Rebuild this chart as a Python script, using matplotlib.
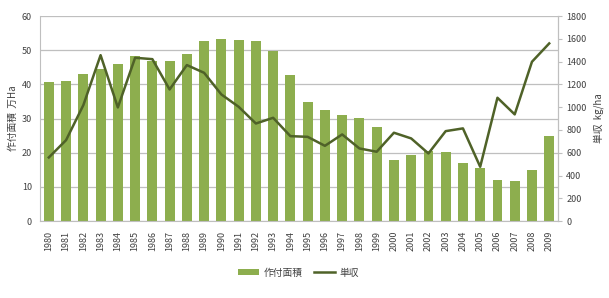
import numpy as np
import matplotlib.pyplot as plt
from matplotlib.patches import Patch
from matplotlib.lines import Line2D

plt.rcParams['font.family'] = ['Noto Sans CJK JP', 'DejaVu Sans']

# data
years = list(range(1980, 2010))
area = [40.8, 41.0, 43.0, 44.5, 46.0, 48.2, 46.8, 46.8, 49.0, 52.7,
        53.3, 52.9, 52.7, 49.8, 42.8, 34.8, 32.6, 31.2, 30.1, 27.5,
        17.9, 19.3, 20.4, 20.2, 16.9, 15.5, 12.0, 11.7, 15.0, 25.0]
yield_kg = [559, 711, 1018, 1457, 998, 1434, 1422, 1156, 1370, 1302,
            1112, 1004, 857, 907, 746, 740, 661, 761, 638, 609,
            776, 726, 594, 790, 814, 477, 1083, 937, 1399, 1560]

bar_color = '#8DAE4E'
line_color = '#4F6228'
grid_color = '#BFBFBF'
text_color = '#404040'

fig = plt.figure(figsize=(6.09, 2.98), dpi=100)
ax = fig.add_axes([0.066, 0.258, 0.850, 0.688])
x = np.arange(len(years))

ax.bar(x, area, width=0.57, color=bar_color, zorder=2)
ax.set_xlim(-0.5, len(years) - 0.5)
ax.set_ylim(0, 60)
ax.set_yticks(range(0, 61, 10))
ax.grid(axis='y', color=grid_color, linewidth=0.9, zorder=0)
ax.set_xticks(x)
ax.set_xticklabels([str(y) for y in years], rotation=90)
ax.tick_params(axis='x', length=0, labelsize=6.5, colors=text_color, pad=7)
ax.tick_params(axis='y', length=0, labelsize=6.5, colors=text_color, pad=6)
ax.spines['top'].set_visible(False)
for s in ['left', 'right', 'bottom']:
    ax.spines[s].set_color(grid_color)
ax.set_ylabel('作付面積  万Ha', fontsize=7, color=text_color, labelpad=3)

ax2 = ax.twinx()
ax2.plot(x, yield_kg, color=line_color, linewidth=1.8, zorder=3)
ax2.set_ylim(0, 1800)
ax2.set_yticks(range(0, 1801, 200))
ax2.tick_params(axis='y', length=3, labelsize=6.5, colors=text_color,
                pad=3, color=grid_color)
for s in ['top', 'left', 'bottom']:
    ax2.spines[s].set_visible(False)
ax2.spines['right'].set_color(grid_color)
ax2.set_ylabel('単収  kg/ha', fontsize=7, color=text_color, rotation=90,
               labelpad=5)

handles = [Patch(facecolor=bar_color, edgecolor='none'),
           Line2D([0], [0], color=line_color, linewidth=1.8)]
fig.legend(handles, ['作付面積', '単収'], loc='center', ncol=2,
           bbox_to_anchor=(0.49, 0.085), frameon=False, fontsize=7,
           handlelength=2.2, handleheight=0.6, columnspacing=1.2,
           handletextpad=0.4, labelcolor=text_color)

fig.savefig('out.png', dpi=100)
